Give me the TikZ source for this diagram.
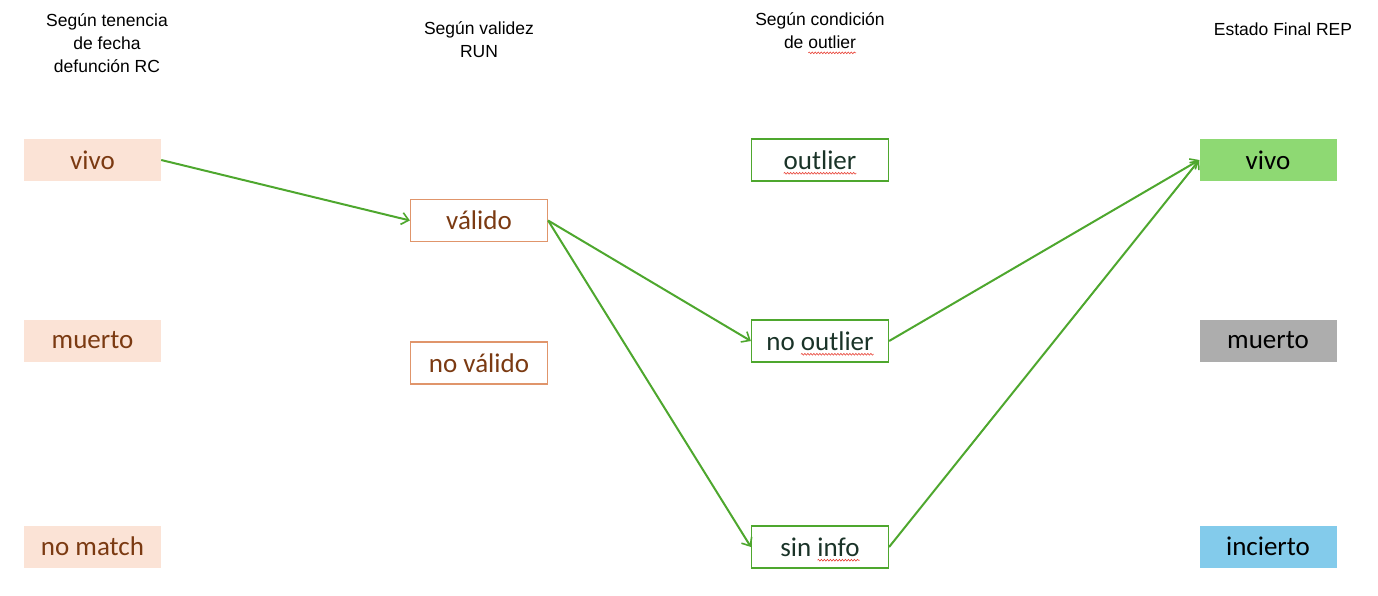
\documentclass[tikz,border=0pt]{standalone}
\usepackage{fontspec}
\setmainfont{Carlito}
\newfontfamily\headfont{Liberation Sans}
\usetikzlibrary{arrows.meta,decorations.pathmorphing}
\definecolor{peach}{HTML}{FBE3D6}
\definecolor{brownTxt}{HTML}{7B3A12}
\definecolor{orangeLine}{HTML}{E0956B}
\definecolor{greenLine}{HTML}{4EA72E}
\definecolor{greenTxt}{HTML}{1A3328}
\definecolor{vivoFill}{HTML}{8ED973}
\definecolor{muertoFill}{HTML}{ADADAD}
\definecolor{inciertoFill}{HTML}{83CBEB}
\definecolor{spellRed}{HTML}{E8463A}
\tikzset{squiggle/.style={draw=spellRed,line width=0.6pt,overlay,
    decorate,decoration={snake,amplitude=0.9pt,segment length=3pt}}}
% red wavy underline for flagged words
\newcommand\spellwave[1]{\tikz[baseline=(w.base)]{\node[inner sep=0pt,outer sep=0pt,
    minimum width=0pt,minimum height=0pt,draw=none,fill=none] (w) {#1};
  \draw[squiggle] ([yshift=-4pt]w.base west) -- ([yshift=-4pt]w.base east);}}
\begin{document}
\begin{tikzpicture}[x=1pt,y=-1pt,
  box/.style={rectangle,minimum width=137pt,minimum height=42pt,inner sep=0pt,
    font=\fontsize{27}{30}\selectfont},
  srcbox/.style={box,fill=peach,text=brownTxt},
  runbox/.style={box,draw=orangeLine,line width=1.2pt,fill=white,text=brownTxt},
  outbox/.style={box,draw=greenLine,line width=1.2pt,fill=white,text=greenTxt},
  finbox/.style={box,text=black},
  header/.style={align=center,font=\headfont\fontsize{17.5}{23}\selectfont,text=black},
  flow/.style={draw=greenLine,line width=2pt,-{Straight Barb[length=7pt,width=12pt,line width=1.6pt]}}
]
\useasboundingbox (0,0) rectangle (1378,595);

% column headers
\node[header] (h1) at (107,43) {Según tenencia\\de fecha\\defunción RC};
\node[header] (h2) at (479,40) {Según validez\\RUN};
\node[header] (h3) at (820,31) {Según condición\\de \spellwave{outlier}};
\node[header] (h4) at (1283,29) {Estado Final REP};

% source state
\node[srcbox] (s1) at (92.5,160) {vivo};
\node[srcbox] (s2) at (92.5,340.5) {muerto};
\node[srcbox] (s3) at (92.5,546.5) {no match};

% RUN validity
\node[runbox] (r1) at (479,220.5) {válido};
\node[runbox] (r2) at (479,363) {no válido};

% outlier condition
\node[outbox] (o1) at (820,160) {\spellwave{outlier}};
\node[outbox] (o2) at (820,341) {no \spellwave{outlier}};
\node[outbox] (o3) at (820,547) {sin \spellwave{info}};

% final state
\node[finbox,fill=vivoFill] (f1) at (1268,160) {vivo};
\node[finbox,fill=muertoFill] (f2) at (1268,340.5) {muerto};
\node[finbox,fill=inciertoFill] (f3) at (1268,546.5) {incierto};

% flows
\draw[flow] (s1.east) -- (r1.west);
\draw[flow] (r1.east) -- (o2.west);
\draw[flow] (r1.east) -- (o3.west);
\draw[flow] (o2.east) -- (f1.west);
\draw[flow] (o3.east) -- (f1.west);
\end{tikzpicture}
\end{document}
